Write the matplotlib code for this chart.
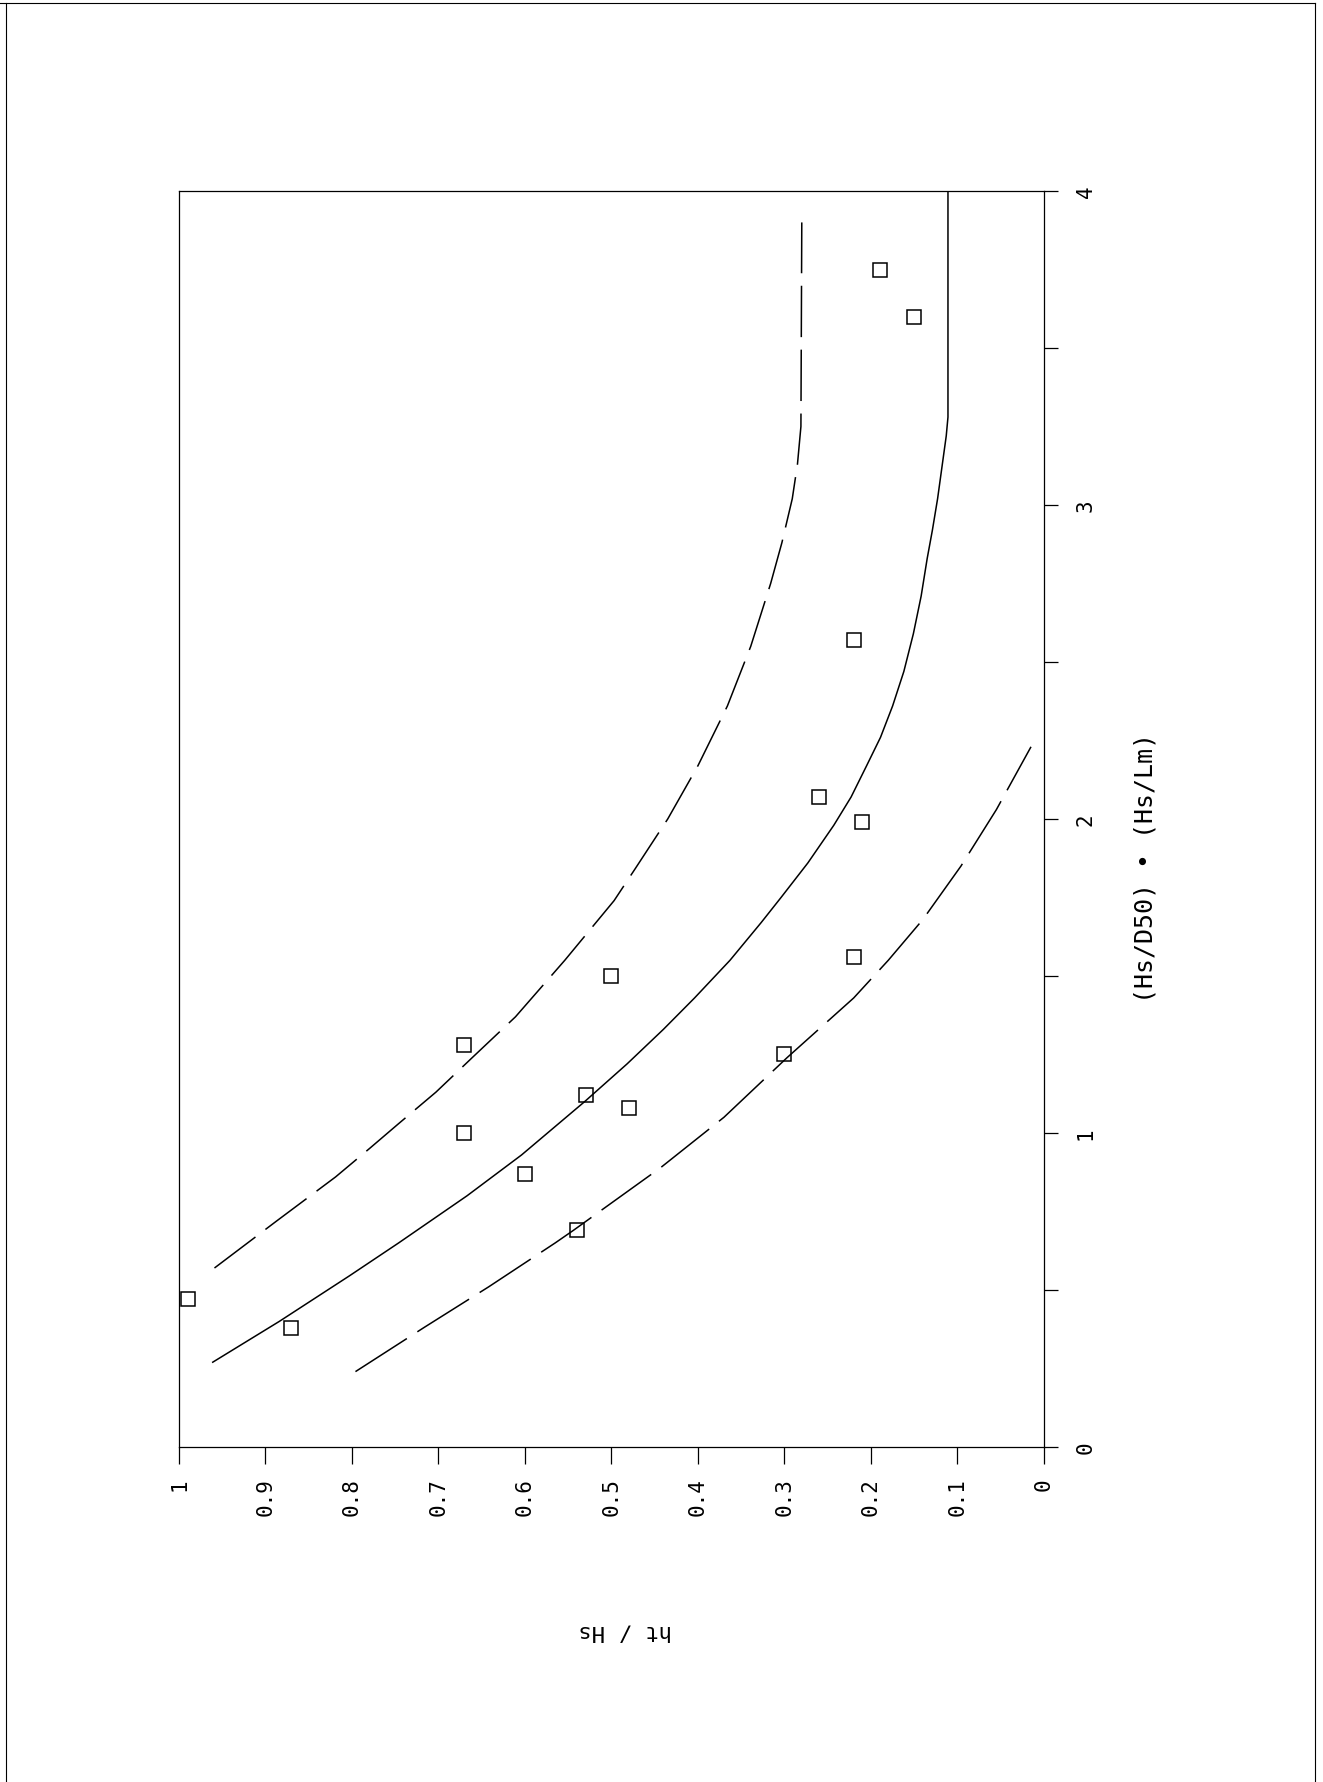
import numpy as np
import matplotlib
matplotlib.use("Agg")
import matplotlib.pyplot as plt
from matplotlib.lines import Line2D

plt.rcParams['font.family'] = ['DejaVu Sans Mono', 'DejaVu Sans']
plt.rcParams['lines.scale_dashes'] = False

# measured points: steepness parameter (Hs/D50)*(Hs/Lm) and relative height ht/Hs
meas_s = [0.47, 0.38, 1.00, 1.28, 0.87, 0.69, 1.12, 1.50, 1.08, 1.25, 2.07, 1.56, 1.99, 2.57, 3.75, 3.60]
meas_h = [0.99, 0.87, 0.67, 0.67, 0.60, 0.54, 0.53, 0.50, 0.48, 0.30, 0.26, 0.22, 0.21, 0.22, 0.19, 0.15]

# mean curve
mid_s = [0.27, 0.40, 0.545, 0.65, 0.80, 0.93, 1.10, 1.22, 1.33, 1.43, 1.55, 1.67, 1.75, 1.86, 1.98,
         2.07, 2.17, 2.26, 2.36, 2.47, 2.59, 2.71, 2.83, 2.92, 3.02, 3.14, 3.22, 3.28, 4.00]
mid_h = [0.961, 0.884, 0.803, 0.746, 0.667, 0.604, 0.531, 0.482, 0.440, 0.404, 0.363, 0.327, 0.304, 0.273, 0.243,
         0.223, 0.205, 0.189, 0.175, 0.162, 0.151, 0.142, 0.135, 0.129, 0.123, 0.117, 0.113, 0.111, 0.111]

# upper bound
upp_s = [0.57, 0.72, 0.86, 0.95, 1.03, 1.13, 1.24, 1.37, 1.49, 1.55, 1.65, 1.74, 1.84, 2.00, 2.17,
         2.36, 2.55, 2.75, 2.88, 3.02, 3.13, 3.25, 3.90]
upp_h = [0.959, 0.887, 0.819, 0.780, 0.746, 0.703, 0.661, 0.611, 0.573, 0.554, 0.524, 0.497, 0.473, 0.435, 0.400,
         0.366, 0.339, 0.316, 0.303, 0.291, 0.285, 0.281, 0.280]

# lower bound
low_s = [0.24, 0.38, 0.51, 0.65, 0.69, 0.89, 1.05, 1.24, 1.43, 1.55, 1.68, 1.85, 2.03, 2.23]
low_h = [0.796, 0.717, 0.642, 0.565, 0.544, 0.443, 0.370, 0.297, 0.220, 0.180, 0.140, 0.096, 0.055, 0.015]

h_ticks = [0, 0.1, 0.2, 0.3, 0.4, 0.5, 0.6, 0.7, 0.8, 0.9, 1]
h_labels = ['0', '0.1', '0.2', '0.3', '0.4', '0.5', '0.6', '0.7', '0.8', '0.9', '1']
s_ticks = [0, 0.5, 1, 1.5, 2, 2.5, 3, 3.5, 4]
s_labels = ['0', '', '1', '', '2', '', '3', '', '4']

fig = plt.figure(figsize=(13.23, 17.83), dpi=100)
ax = fig.add_axes([0.1353, 0.1879, 0.6538, 0.7044])

# page is turned: ht/Hs runs along the bottom, the steepness up the right side
ax.plot(mid_h, mid_s, color='black', lw=1.1)
ax.plot(upp_h, upp_s, color='black', lw=1.1, linestyle=(0, (37, 9)))
ax.plot(low_h, low_s, color='black', lw=1.1, linestyle=(0, (44, 9)))
ax.plot(meas_h, meas_s, linestyle='none', marker='s', markersize=10,
        markerfacecolor='none', markeredgecolor='black', markeredgewidth=1.1)

ax.set_xlim(1, 0)
ax.set_ylim(0, 4)
ax.yaxis.tick_right()

ax.set_xticks(h_ticks)
ax.set_xticklabels(h_labels, rotation=90)
ax.set_yticks(s_ticks)
ax.set_yticklabels(s_labels, rotation=90, va='center')

ax.tick_params(axis='x', direction='out', length=12, width=0.9, pad=10, labelsize=15)
ax.tick_params(axis='y', direction='out', length=10, width=0.9, pad=13, labelsize=15)
for sp in ax.spines.values():
    sp.set_linewidth(0.9)

fig.text(0.4724, 0.0847, 'ht / Hs', rotation=180, ha='center', va='center', fontsize=16)
fig.text(0.8655, 0.5132, '(Hs/D50) \u2022 (Hs/Lm)', rotation=90, ha='center', va='center', fontsize=18)

# border of the sheet
fig.add_artist(Line2D([0.0045, 0.0045], [0.0, 0.998], transform=fig.transFigure, color='black', lw=0.8))
fig.add_artist(Line2D([0.0, 0.994], [0.998, 0.998], transform=fig.transFigure, color='black', lw=0.8))
fig.add_artist(Line2D([0.994, 0.994], [0.0, 0.998], transform=fig.transFigure, color='black', lw=0.8))

fig.savefig('out.png', dpi=100)
